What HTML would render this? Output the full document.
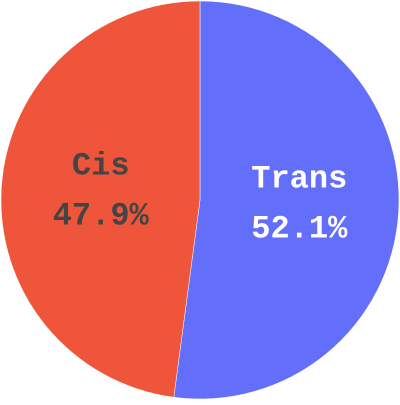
<!DOCTYPE html>
<html><head><meta charset="utf-8"><style>
html,body{margin:0;padding:0;background:#fff;}
svg text{font-family:"Liberation Mono","DejaVu Sans Mono",monospace;font-weight:bold;font-size:32px;letter-spacing:0px;text-anchor:middle;}
</style></head><body>
<svg id="chart" width="400" height="400" xmlns="http://www.w3.org/2000/svg"></svg>
<script>
const labels = ["Trans", "Cis"];
const values = [52.1, 47.9];
const colors = ["#636efa", "#ef553b"];
const textColors = ["#ffffff", "#444444"];
const svg = document.getElementById('chart');
const NS = "http://www.w3.org/2000/svg";
const cx = 200, cy = 200, r = 199;
const total = values.reduce((a,b)=>a+b,0);
let start = 0;
values.forEach((v,i)=>{
  const a0 = start/total*2*Math.PI, a1 = (start+v)/total*2*Math.PI;
  const x0 = cx + r*Math.sin(a0), y0 = cy - r*Math.cos(a0);
  const x1 = cx + r*Math.sin(a1), y1 = cy - r*Math.cos(a1);
  const large = (a1-a0) > Math.PI ? 1 : 0;
  const p = document.createElementNS(NS,'path');
  p.setAttribute('d',`M${cx},${cy} L${x0},${y0} A${r},${r} 0 ${large} 1 ${x1},${y1} Z`);
  p.setAttribute('fill',colors[i]);
  p.setAttribute('stroke','#fff');
  p.setAttribute('stroke-width','0.5');
  
  
  svg.appendChild(p);
  const mid = (a0+a1)/2, lr = r*0.5;
  const lx = cx + lr*Math.sin(mid), ly = cy - lr*Math.cos(mid);
  const t1 = document.createElementNS(NS,'text');
  t1.setAttribute('x',lx); t1.setAttribute('y',ly-19);
  t1.setAttribute('fill',textColors[i]);
  t1.textContent = labels[i];
  
  
  svg.appendChild(t1);
  const t2 = document.createElementNS(NS,'text');
  t2.setAttribute('x',lx); t2.setAttribute('y',ly+31);
  t2.setAttribute('fill',textColors[i]);
  t2.textContent = (v/total*100).toFixed(1)+'%';
  
  
  svg.appendChild(t2);
  start += v;
});
</script>
</body></html>
